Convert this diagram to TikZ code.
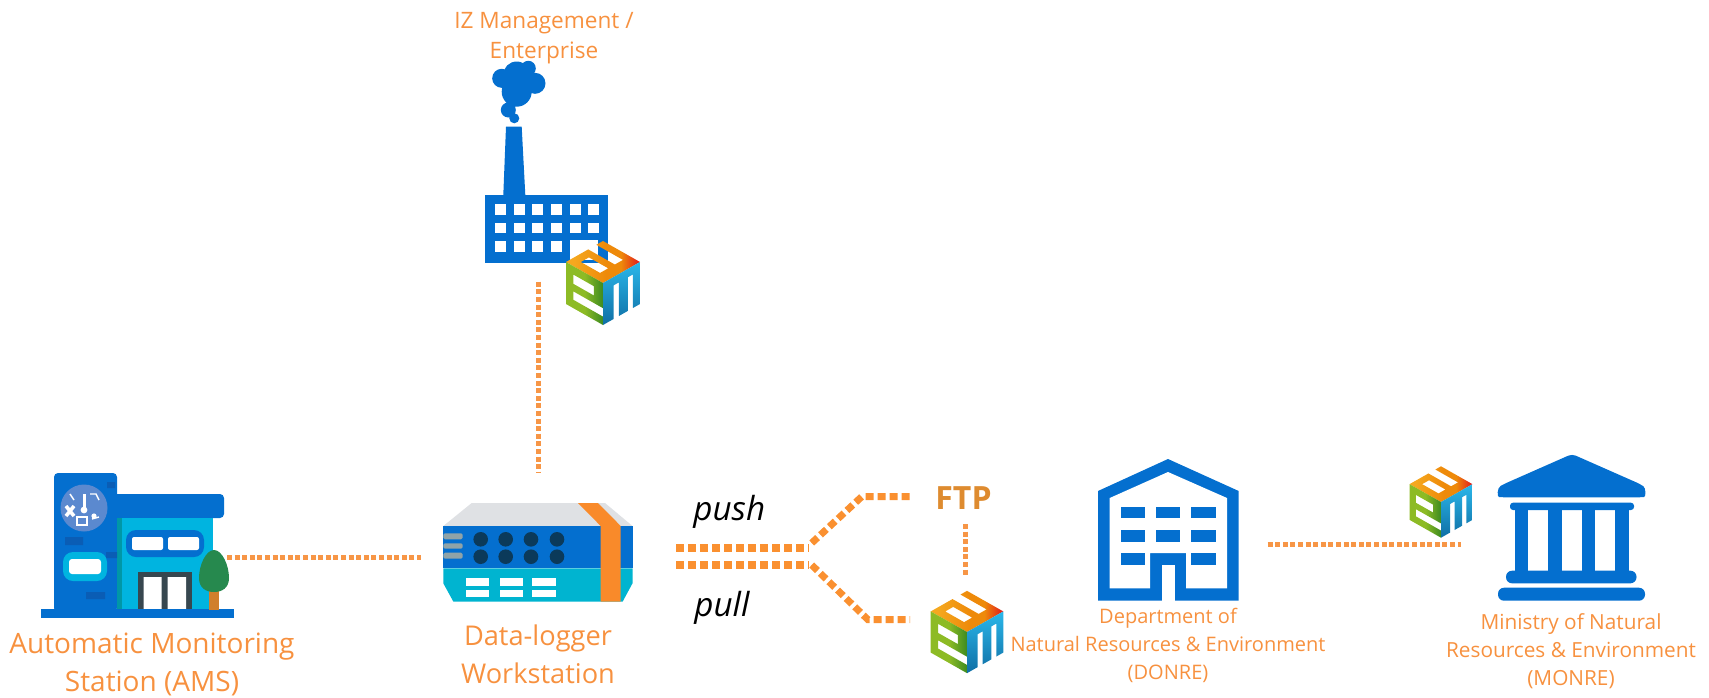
\documentclass[tikz,border=0pt]{standalone}
\usepackage{fontspec}
\setmainfont{Open Sans}
\definecolor{lblor}{HTML}{F7913F}
\definecolor{dotor}{HTML}{F79646}
\definecolor{thickor}{HTML}{FA9030}
\definecolor{ftpor}{HTML}{DE8B2F}
\definecolor{iblue}{HTML}{046FCF}
\definecolor{iblueB}{HTML}{0A5DB5}
\definecolor{icyan}{HTML}{00B4E0}
\definecolor{iteal}{HTML}{0097A7}
\definecolor{dcyan}{HTML}{00B4D0}
\definecolor{igrey}{HTML}{DFE1E4}
\definecolor{ibar}{HTML}{8FA3A8}
\definecolor{idot}{HTML}{0B3A5A}
\definecolor{band}{HTML}{F98A2A}
\definecolor{ring}{HTML}{5B89CF}
\definecolor{door}{HTML}{37474F}
\definecolor{tree}{HTML}{26894E}
\definecolor{trunk}{HTML}{D07F2C}
\definecolor{emA}{HTML}{F5A81F}
\definecolor{emB}{HTML}{EE8A0A}
\definecolor{emC}{HTML}{E3201B}
\definecolor{emD}{HTML}{8DBB25}
\definecolor{emE}{HTML}{3D8B20}
\definecolor{emF}{HTML}{2BB7EA}
\definecolor{emG}{HTML}{0F6FA5}
\pgfdeclarehorizontalshading{emtop}{100bp}{color(0bp)=(emA); color(30bp)=(emA); color(52bp)=(emB); color(62bp)=(emB); color(74bp)=(emC); color(100bp)=(emC)}
\pgfdeclarehorizontalshading{emleft}{100bp}{color(0bp)=(emD); color(50bp)=(emD); color(75bp)=(emE); color(100bp)=(emE)}
\tikzset{
  x=0.5pt,y=-0.5pt,
  fine/.style={draw=dotor,line width=2.5pt,dash pattern=on 2.5pt off 1.3pt},
  thick dots/.style={draw=thickor,line width=4pt,dash pattern=on 4.2pt off 1.8pt},
  branch dots/.style={draw=thickor,line width=3.5pt,dash pattern=on 4pt off 2pt},
  lab/.style={text=lblor,align=center,inner sep=0pt},
  wh/.style={fill=white,draw=none},
}
\newcommand{\emcube}[3]{%
 \begin{scope}[shift={(#1,#2)},scale=#3]
  \begin{scope}[shift={(-18.5pt,10.5pt)},x={(18.5pt,-10.5pt)},y={(18.5pt,10.5pt)}]
   \shade[even odd rule,shading=emtop]
     (0,0)--(1,0)--(1,1)--(0,1)--(0,.82)--(.72,.82)--(.72,.6)--(0,.6)--cycle
     (.2,.2)--(.72,.2)--(.72,.42)--(.2,.42)--cycle;
  \end{scope}
  \begin{scope}[shift={(-18.5pt,10.5pt)},x={(18.5pt,-10.5pt)},y={(0pt,-21pt)}]
   \shade[even odd rule,shading=emleft]
     (0,0)--(1,0)--(1,.6)--(.2,.6)--(.2,.8)--(1,.8)--(1,1)--(0,1)--cycle
     (.2,.2)--(.75,.2)--(.75,.42)--(.2,.42)--cycle;
  \end{scope}
  \begin{scope}[shift={(0pt,0pt)},x={(18.5pt,10.5pt)},y={(0pt,-21pt)}]
   \shade[top color=emF,bottom color=emG]
     (0,0)--(1,0)--(1,1)--(.81,1)--(.81,.2)--(.67,.2)--(.67,1)--(.43,1)--(.43,.2)--(.29,.2)--(.29,1)--(0,1)--cycle;
  \end{scope}
 \end{scope}}
\begin{document}
\begin{tikzpicture}
\useasboundingbox (0,0) rectangle (1709,697);
% ---------- AMS building
\fill[iblue,rounded corners=2pt] (54,473) rectangle (117,612);
\fill[iblue,rounded corners=2pt] (100,494) rectangle (224,518);
\fill[iteal] (117,518) rectangle (122,610);
\fill[icyan] (122,518) rectangle (213,610);
\fill[iblue,rounded corners=5pt] (126,530) rectangle (204,557);
\fill[white,rounded corners=1pt] (132,537) rectangle (163,550);
\fill[white,rounded corners=1pt] (168,537) rectangle (199,550);
\fill[door] (138,572) rectangle (192,610);
\fill[white] (143.5,577) rectangle (161.5,610) (167.5,577) rectangle (186,610);
\fill[icyan,rounded corners=5pt] (63,552) rectangle (107,581);
\fill[white,rounded corners=1.5pt] (69,559) rectangle (101,574);
\fill[iblueB] (65,537) rectangle (83,545) (86,592) rectangle (105,599) (107,482) rectangle (115,488) (106,552) rectangle (117,558);
\fill[ring] (84,508) circle [radius=23.5];
\fill[white] (84,510) circle [radius=3.4];
\fill[white] (82.5,494) rectangle (85.5,510);
\draw[white,line width=1.8pt] (66,506)--(74,516) (74,506)--(66,516);
\draw[white,line width=.6pt] (77,517) rectangle (87,525);
\draw[white,line width=.7pt] (70,494)--(74,500) (90,494)--(96,494)--(99,500) (92,519)--(99,517);
\fill[white] (94,516) circle [radius=2.6];
\fill[iblue] (40.7,609) rectangle (234,618);
\fill[trunk] (209,590) rectangle (219,610);
\fill[tree] (214,550) .. controls (222,550) and (229,565) .. (229,578)
   .. controls (229,588) and (222,592) .. (214,592)
   .. controls (206,592) and (199,588) .. (199,578)
   .. controls (199,565) and (206,550) .. (214,550) -- cycle;
\node[lab,font=\fontsize{14}{19}\selectfont] (ams) at (152,664.5) {Automatic Monitoring\\Station (AMS)};
% ---------- Data logger
\fill[igrey] (443.3,526)--(471.7,503)--(605,503)--(632.5,526)--cycle;
\fill[iblue] (443.3,526) rectangle (632.5,568.3);
\fill[dcyan] (443.3,568.3)--(632.5,568.3)--(632.5,583.3)--(622.7,601.5)--(453.3,601.5)--(443.3,583.3)--cycle;
\fill[band] (578,503)--(598,503)--(620.7,526)--(620.7,601.5)--(600.7,601.5)--(600.7,526)--cycle;
\fill[ibar,rounded corners=.8pt] (443.3,533.3) rectangle (462.7,539.3);
\fill[ibar,rounded corners=.8pt] (443.3,543.3) rectangle (462.7,548.7);
\fill[ibar,rounded corners=.8pt] (443.3,552.7) rectangle (462.7,558.7);
\foreach \px in {480.7,505.7,531,557}{\foreach \py in {539.3,556.7}{\fill[idot] (\px,\py) circle [radius=7.3];}}
\foreach \px/\pw in {465.7/489.3,500/522.7,532.3/555.7}{
  \fill[white] (\px,578.3) rectangle (\pw,586);
  \fill[white] (\px,589.7) rectangle (\pw,597.3);}
\node[lab,font=\fontsize{13.6}{19}\selectfont] (dlw) at (538,654) {Data-logger\\Workstation};
% ---------- Factory
\fill[iblue] (506,126.7)--(521.7,126.7)--(525.3,195)--(503.3,195)--cycle;
\fill[iblue] (485.3,194.7) rectangle (608.3,262.7);
\foreach \px in {495.3,514,532.3,551,569.7,588.3}{
  \fill[white] (\px,204.3) rectangle +(11,10.7);
  \fill[white] (\px,222.7) rectangle +(11,10.7);}
\foreach \px in {495.3,514,532.3,551}{\fill[white] (\px,240.7) rectangle +(11,11);}
\fill[white] (569.7,239.5) rectangle (598,259.5);
\fill[iblue] (501.7,78.3) circle [radius=9.5] (516.7,75) circle [radius=13.5]
  (528.3,68.3) circle [radius=7.5] (535,83.3) circle [radius=10.5] (516.7,91.7) circle [radius=15]
  (508.3,110) circle [radius=7.5] (514.3,118.3) circle [radius=5];
\emcube{603}{283}{1}
\node[lab,font=\fontsize{11.3}{15.3}\selectfont] (iz) at (544,38) {IZ Management /\\Enterprise};
% ---------- FTP, central cube
\node[inner sep=0pt,text=ftpor,font=\fontsize{16}{18}\selectfont\bfseries] (ftp) at (963.5,498) {FTP};
\emcube{967}{632}{0.98}
% ---------- DONRE
\fill[iblue] (1098,600.7)--(1098,491)--(1168,459)--(1238.7,491)--(1238.7,600.7)--cycle;
\fill[white] (1109.7,588.3)--(1109.7,498)--(1168,472)--(1227,498)--(1227,588.3)--(1186,588.3)--(1186,553)--(1150,553)--(1150,588.3)--cycle;
\fill[white] (1162,565) rectangle (1174.5,600.7);
\foreach \px/\pw in {1121/1145,1156/1180,1191/1215.6}{
  \fill[iblue] (\px,506.7) rectangle (\pw,518.3);
  \fill[iblue] (\px,530) rectangle (\pw,541.7);}
\fill[iblue] (1121,553.3) rectangle (1145,565);
\fill[iblue] (1191,553.3) rectangle (1215.6,565);
\node[lab,font=\fontsize{10}{14}\selectfont] (donre) at (1168,645.5) {Department of\\Natural Resources \& Environment\\(DONRE)};
% ---------- MONRE
\fill[iblue,rounded corners=2pt] (1572,454)--(1640,484) .. controls (1646,488) and (1646,497) .. (1640,497.3)--(1503,497.3) .. controls (1497,497) and (1497,488) .. (1504,484)--cycle;
\fill[iblue,rounded corners=1.5pt] (1510,502.7) rectangle (1634,510);
\foreach \px/\pw in {1514.5/1528,1548/1562,1582/1595.4,1615/1629}{\fill[iblue] (\px,509) rectangle (\pw,571);}
\fill[iblue,rounded corners=3pt] (1506,570.7) rectangle (1636.5,583.3);
\fill[iblue,rounded corners=3pt] (1498,587.7) rectangle (1645,600.7);
\emcube{1441}{502}{0.85}
\node[lab,font=\fontsize{10.4}{14}\selectfont] (monre) at (1571,651) {Ministry of Natural\\Resources \& Environment\\(MONRE)};
% ---------- push / pull
\node[inner sep=0pt,anchor=base west,text=black,font=\fontsize{16.6}{18}\selectfont\itshape] (push) at (693,520) {push};
\node[inner sep=0pt,anchor=base west,text=black,font=\fontsize{16.6}{18}\selectfont\itshape] (pull) at (694,616.7) {pull};
% ---------- connectors
\coordinate (amsE) at (227,557);
\coordinate (dlwW) at (420.7,557);
\coordinate (dlwN) at (538.3,473);
\coordinate (izS)  at (538.3,281.7);
\coordinate (pushA) at (676,548.3);
\coordinate (pushB) at (809,548.3);
\coordinate (pushC) at (811.7,543);
\coordinate (pushD) at (861.7,496.7);
\coordinate (ftpW) at (913,496.7);
\coordinate (pullA) at (676,565);
\coordinate (pullB) at (809,565);
\coordinate (pullC) at (811.7,565);
\coordinate (pullD) at (868,619.7);
\coordinate (cubeW) at (910,619.7);
\coordinate (ftpS) at (965.3,524);
\coordinate (cubeN) at (965.3,576.7);
\coordinate (donreE) at (1267.6,544.3);
\coordinate (monreW) at (1461,544.3);
\draw[fine] (amsE) -- (dlwW);
\draw[fine] (izS) -- (dlwN);
\draw[fine] (ftpS) -- (cubeN);
\draw[fine] (donreE) -- (monreW);
\draw[thick dots] (pushA) -- (pushB);
\draw[thick dots] (pullA) -- (pullB);
\draw[branch dots] (pushC) -- (pushD) -- (ftpW);
\draw[branch dots] (pullC) -- (pullD) -- (cubeW);
\end{tikzpicture}
\end{document}
